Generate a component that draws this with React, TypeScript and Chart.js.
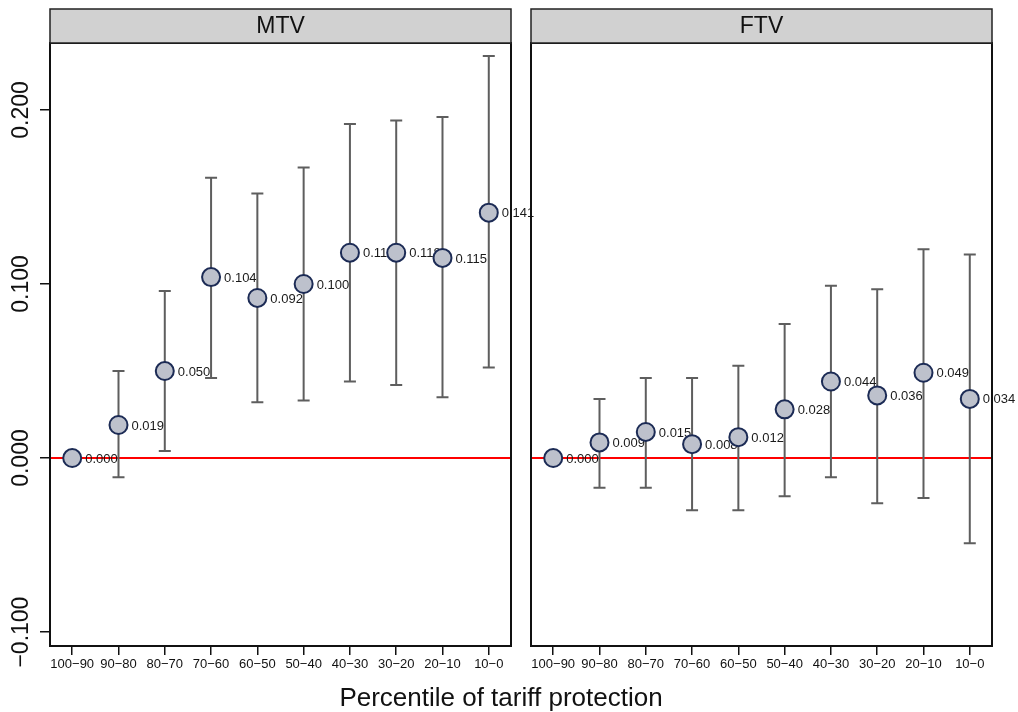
import React, { useEffect, useRef } from "react";
import { Chart, registerables } from "chart.js";
Chart.register(...registerables);

const categories = ["100−90", "90−80", "80−70", "70−60", "60−50", "50−40", "40−30", "30−20", "20−10", "10−0"];
const panelTitles = ["MTV", "FTV"];

const mtvCoef = [0.0, 0.019, 0.05, 0.104, 0.092, 0.1, 0.118, 0.118, 0.115, 0.141];
const mtvLower = [null, -0.011, 0.004, 0.046, 0.032, 0.033, 0.044, 0.042, 0.035, 0.052];
const mtvUpper = [null, 0.05, 0.096, 0.161, 0.152, 0.167, 0.192, 0.194, 0.196, 0.231];

const ftvCoef = [0.0, 0.009, 0.015, 0.008, 0.012, 0.028, 0.044, 0.036, 0.049, 0.034];
const ftvLower = [null, -0.017, -0.017, -0.03, -0.03, -0.022, -0.011, -0.026, -0.023, -0.049];
const ftvUpper = [null, 0.034, 0.046, 0.046, 0.053, 0.077, 0.099, 0.097, 0.12, 0.117];

const yTicks = [-0.1, 0.0, 0.1, 0.2];
const yTickLabels = ["−0.100", "0.000", "0.100", "0.200"];
const xTitle = "Percentile of tariff protection";

const Y_MIN = -0.108;
const Y_MAX = 0.2385;
const X_MIN = -0.48;
const X_MAX = 9.48;

const FONT = '"Liberation Sans", Arial, Helvetica, sans-serif';

type PanelCfg = {
  title: string;
  coef: number[];
  lower: (number | null)[];
  upper: (number | null)[];
  showYLabels: boolean;
};

function makePanelPlugin(cfg: PanelCfg) {
  return {
    id: "panel",
    beforeDatasetsDraw(chart: any) {
      const { ctx, chartArea: a } = chart;
      const x = chart.scales.x;
      const y = chart.scales.y;
      ctx.save();
      const y0 = y.getPixelForValue(0);
      ctx.strokeStyle = "#ff0000";
      ctx.lineWidth = 2;
      ctx.beginPath();
      ctx.moveTo(a.left, y0);
      ctx.lineTo(a.right, y0);
      ctx.stroke();

      ctx.font = `13px ${FONT}`;
      ctx.fillStyle = "#1a1a1a";
      ctx.textAlign = "left";
      ctx.textBaseline = "middle";
      cfg.coef.forEach((v, i) => {
        ctx.fillText(v.toFixed(3), x.getPixelForValue(i) + 13, y.getPixelForValue(v) + 1);
      });

      ctx.strokeStyle = "#5e5e5e";
      ctx.lineWidth = 2;
      cfg.lower.forEach((lo, i) => {
        const hi = cfg.upper[i];
        if (lo == null || hi == null) return;
        const px = x.getPixelForValue(i);
        const pl = y.getPixelForValue(lo);
        const ph = y.getPixelForValue(hi);
        ctx.beginPath();
        ctx.moveTo(px, pl);
        ctx.lineTo(px, ph);
        ctx.moveTo(px - 6, pl);
        ctx.lineTo(px + 6, pl);
        ctx.moveTo(px - 6, ph);
        ctx.lineTo(px + 6, ph);
        ctx.stroke();
      });
      ctx.restore();
    },
    afterDatasetsDraw(chart: any) {
      const { ctx, chartArea: a } = chart;
      ctx.save();
      ctx.strokeStyle = "#111";
      ctx.lineWidth = 2;
      ctx.strokeRect(a.left, a.top, a.right - a.left, a.bottom - a.top);
      ctx.restore();
    },
    afterDraw(chart: any) {
      const { ctx, chartArea: a } = chart;
      ctx.save();
      const sTop = 9;
      const sBottom = a.top;
      ctx.fillStyle = "#d1d1d1";
      ctx.fillRect(a.left, sTop, a.right - a.left, sBottom - sTop);
      ctx.strokeStyle = "#222";
      ctx.lineWidth = 1.5;
      ctx.strokeRect(a.left, sTop, a.right - a.left, sBottom - sTop);
      ctx.fillStyle = "#111";
      ctx.font = `23px ${FONT}`;
      ctx.textAlign = "center";
      ctx.textBaseline = "middle";
      ctx.fillText(cfg.title, (a.left + a.right) / 2, (sTop + sBottom) / 2 + 1);
      if (cfg.showYLabels) {
        const y = chart.scales.y;
        ctx.font = `23px ${FONT}`;
        ctx.fillStyle = "#111";
        yTicks.forEach((v, i) => {
          const py = y.getPixelForValue(v);
          ctx.save();
          ctx.translate(22, py);
          ctx.rotate(-Math.PI / 2);
          ctx.textAlign = "center";
          ctx.textBaseline = "middle";
          ctx.fillText(yTickLabels[i], 0, 0);
          ctx.restore();
        });
      }
      ctx.restore();
    },
  };
}

function Panel(props: { cfg: PanelCfg; left: number; width: number; padLeft: number; padRight: number; z: number }) {
  const ref = useRef<HTMLCanvasElement | null>(null);
  const { cfg, left, width, padLeft, padRight, z } = props;
  useEffect(() => {
    if (!ref.current) return;
    const chart = new Chart(ref.current, {
      type: "scatter",
      data: {
        datasets: [
          {
            data: cfg.coef.map((v, i) => ({ x: i, y: v })),
            pointRadius: 9,
            pointHoverRadius: 9,
            pointBackgroundColor: "#bdc1cc",
            pointBorderColor: "#1c2b55",
            pointBorderWidth: 2,
            showLine: false,
          },
        ],
      },
      options: {
        animation: false,
        responsive: false,
        events: [],
        layout: { padding: { left: padLeft, right: padRight, top: 43, bottom: 36 } },
        plugins: { legend: { display: false }, tooltip: { enabled: false }, title: { display: false } },
        scales: {
          x: {
            type: "linear",
            min: X_MIN,
            max: X_MAX,
            afterBuildTicks: (s: any) => {
              s.ticks = categories.map((_, i) => ({ value: i }));
            },
            afterFit: (s: any) => {
              s.height = 30;
            },
            ticks: {
              autoSkip: false,
              maxRotation: 0,
              minRotation: 0,
              padding: 2,
              color: "#111",
              font: { family: FONT, size: 13 },
              callback: (v: any) => categories[Math.round(Number(v))] ?? "",
            },
            grid: { drawOnChartArea: false, drawTicks: true, tickLength: 9, color: "#111", lineWidth: 1.5 },
            border: { display: false },
          },
          y: {
            type: "linear",
            min: Y_MIN,
            max: Y_MAX,
            display: cfg.showYLabels,
            afterBuildTicks: (s: any) => {
              s.ticks = yTicks.map((v) => ({ value: v }));
            },
            afterFit: (s: any) => {
              s.width = cfg.showYLabels ? 50 : 0;
            },
            ticks: { display: false },
            grid: { drawOnChartArea: false, drawTicks: true, tickLength: 10, color: "#111", lineWidth: 1.5 },
            border: { display: false },
          },
        },
      },
      plugins: [makePanelPlugin(cfg)],
    } as any);
    return () => chart.destroy();
  }, []);
  return (
    <canvas
      ref={ref}
      width={width}
      height={712}
      style={{ position: "absolute", left, top: 0, width, height: 712, zIndex: z }}
    />
  );
}

export default function App() {
  const mtv: PanelCfg = { title: panelTitles[0], coef: mtvCoef, lower: mtvLower, upper: mtvUpper, showYLabels: true };
  const ftv: PanelCfg = { title: panelTitles[1], coef: ftvCoef, lower: ftvLower, upper: ftvUpper, showYLabels: false };
  return (
    <div style={{ position: "fixed", left: 0, top: 0, width: 1018, height: 712, background: "#fff", overflow: "hidden" }}>
      <Panel cfg={mtv} left={0} width={570} padLeft={0} padRight={59} z={1} />
      <Panel cfg={ftv} left={520} width={498} padLeft={11} padRight={26} z={2} />
      <div
        style={{
          position: "absolute",
          left: 0,
          top: 682,
          width: 1002,
          textAlign: "center",
          fontFamily: FONT,
          fontSize: 26,
          lineHeight: "30px",
          color: "#111",
          zIndex: 3,
        }}
      >
        {xTitle}
      </div>
    </div>
  );
}
